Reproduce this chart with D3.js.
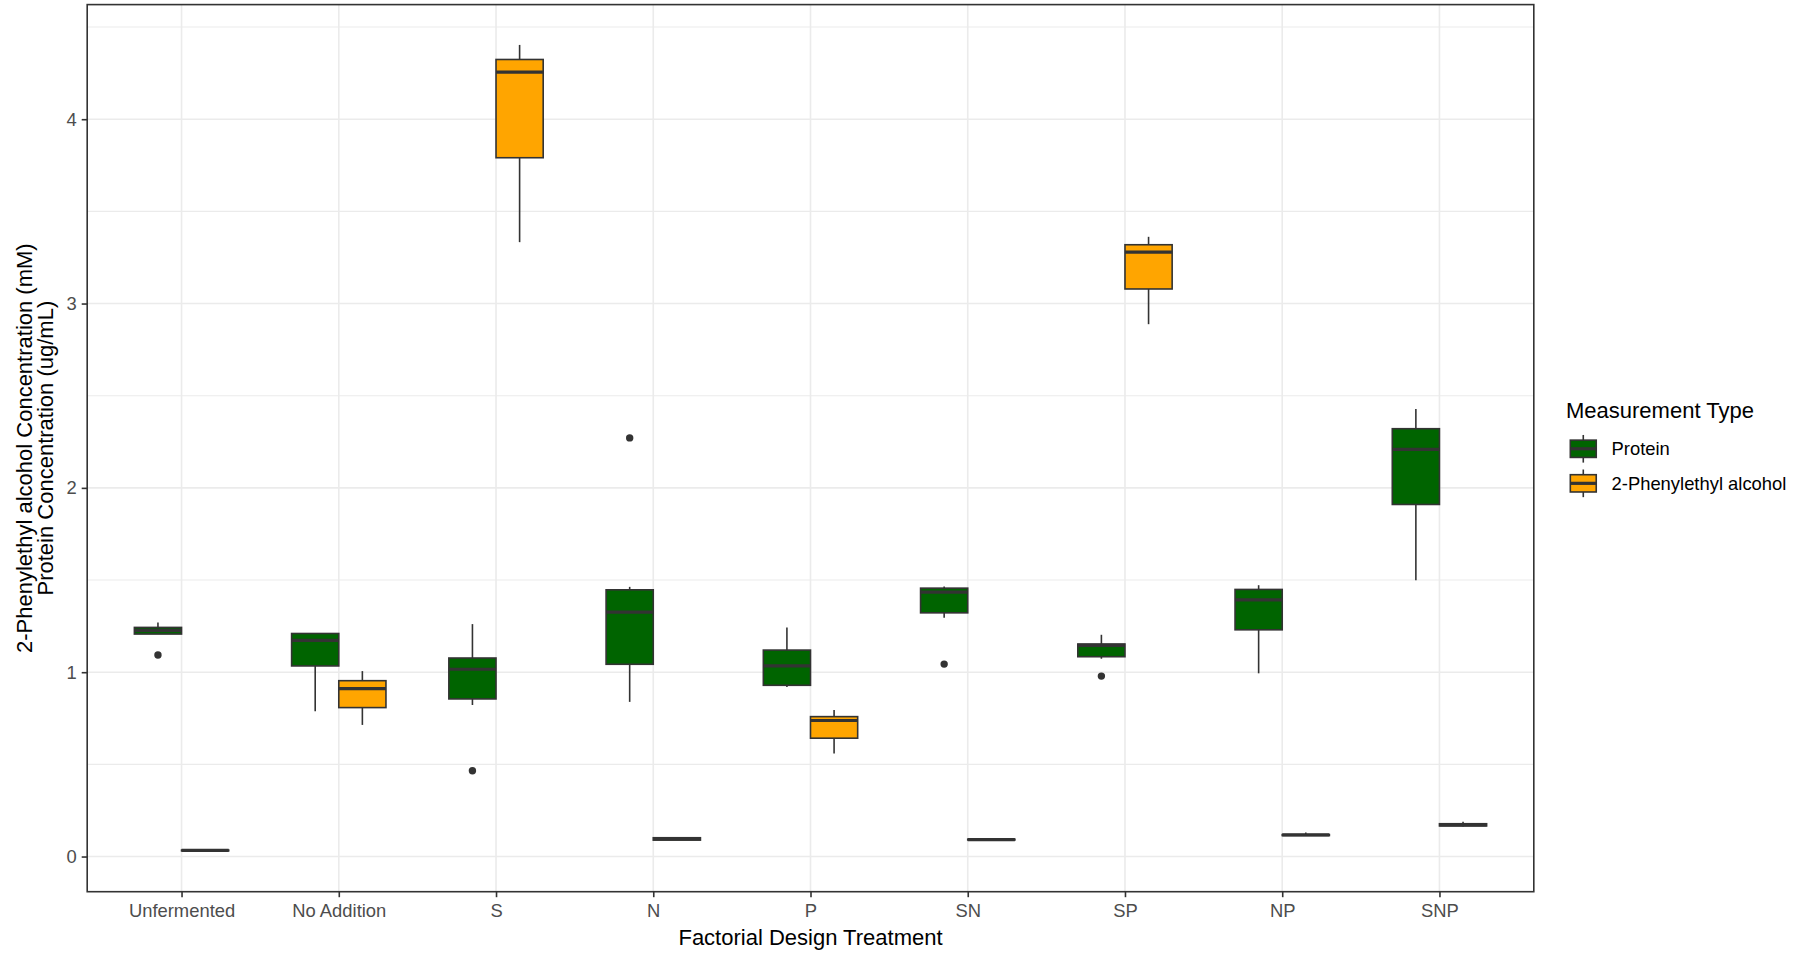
<!DOCTYPE html>
<html>
<head>
<meta charset="utf-8">
<script src="https://cdn.jsdelivr.net/npm/d3@7"></script>
<style>
  body { margin: 0; background: #ffffff; }
  text { font-family: "Liberation Sans", Arial, sans-serif; }
</style>
</head>
<body>
<svg id="chart" width="1811" height="954"></svg>
<script>
// Treatments along the x axis
const categories = ["Unfermented", "No Addition", "S", "N", "P", "SN", "SP", "NP", "SNP"];

// Measurement types (legend order)
const seriesNames = ["Protein", "2-Phenylethyl alcohol"];
const seriesColors = ["#006400", "#FFA500"];

// Protein concentration (ug/mL): five-number summaries per treatment
const proteinLow  = [1.207, 0.788, 0.822, 0.839, 0.920, 1.295, 1.073, 0.994, 1.499];
const proteinQ1   = [1.207, 1.034, 0.855, 1.043, 0.929, 1.322, 1.084, 1.230, 1.910];
const proteinMed  = [1.227, 1.173, 1.016, 1.326, 1.034, 1.434, 1.146, 1.392, 2.209];
const proteinQ3   = [1.243, 1.210, 1.077, 1.447, 1.120, 1.456, 1.153, 1.449, 2.321];
const proteinHigh = [1.270, 1.210, 1.261, 1.463, 1.243, 1.465, 1.203, 1.472, 2.428];
const proteinOutliers = [[1.093], [], [0.465], [2.271], [], [1.044], [0.979], [], []];

// 2-Phenylethyl alcohol concentration (mM): five-number summaries per treatment
const peaLow  = [0.028, 0.714, 3.333, 0.088, 0.559, 0.088, 2.888, 0.112, 0.163];
const peaQ1   = [0.031, 0.808, 3.791, 0.089, 0.642, 0.090, 3.079, 0.114, 0.166];
const peaMed  = [0.033, 0.911, 4.255, 0.097, 0.738, 0.092, 3.279, 0.117, 0.171];
const peaQ3   = [0.035, 0.954, 4.324, 0.102, 0.759, 0.094, 3.319, 0.119, 0.178];
const peaHigh = [0.037, 1.006, 4.403, 0.106, 0.795, 0.095, 3.362, 0.131, 0.189];
const peaOutliers = [[], [], [], [], [], [], [], [], []];

// Axis ticks
const yMajorTicks = [0, 1, 2, 3, 4];
const yMinorTicks = [0.5, 1.5, 2.5, 3.5, 4.5];

// ---- assemble box records ----
function buildSeries(si, low, q1, med, q3, high, outl) {
  return categories.map((c, i) => ({
    category: c, series: si,
    low: low[i], q1: q1[i], med: med[i], q3: q3[i], high: high[i],
    outliers: outl[i]
  }));
}
const boxes = [
  ...buildSeries(0, proteinLow, proteinQ1, proteinMed, proteinQ3, proteinHigh, proteinOutliers),
  ...buildSeries(1, peaLow, peaQ1, peaMed, peaQ3, peaHigh, peaOutliers)
];

// ---- layout ----
const panel = { left: 87.2, top: 4.6, right: 1533.8, bottom: 891.7 };
const dodgeWidth = 0.6;       // in category steps
const gridColor = "#EBEBEB";
const inkColor = "#333333";
const tickTextColor = "#4D4D4D";

const svg = d3.select("#chart");

const x = d3.scalePoint()
  .domain(categories)
  .range([panel.left, panel.right])
  .padding(0.6);
const step = x.step();

const allVals = boxes.flatMap(b => [b.low, b.high, ...b.outliers]);
const vMin = d3.min(allVals), vMax = d3.max(allVals);
const pad = (vMax - vMin) * 0.05;
const y = d3.scaleLinear()
  .domain([vMin - pad, vMax + pad])
  .range([panel.bottom, panel.top]);

// panel background
svg.append("rect")
  .attr("x", panel.left).attr("y", panel.top)
  .attr("width", panel.right - panel.left).attr("height", panel.bottom - panel.top)
  .attr("fill", "#ffffff");

// gridlines
const grid = svg.append("g");
grid.selectAll(".minor").data(yMinorTicks).join("line")
  .attr("x1", panel.left).attr("x2", panel.right)
  .attr("y1", d => y(d)).attr("y2", d => y(d))
  .attr("stroke", gridColor).attr("stroke-width", 1.1);
grid.selectAll(".majorY").data(yMajorTicks).join("line")
  .attr("x1", panel.left).attr("x2", panel.right)
  .attr("y1", d => y(d)).attr("y2", d => y(d))
  .attr("stroke", gridColor).attr("stroke-width", 1.6);
grid.selectAll(".majorX").data(categories).join("line")
  .attr("x1", d => x(d)).attr("x2", d => x(d))
  .attr("y1", panel.top).attr("y2", panel.bottom)
  .attr("stroke", gridColor).attr("stroke-width", 1.6);

// boxes
const boxW = step * dodgeWidth / 2;
const centerX = b => x(b.category) + (b.series === 0 ? -1 : 1) * boxW / 2;

const g = svg.append("g");
const bg = g.selectAll("g.box").data(boxes).join("g").attr("class", "box");

bg.append("line")
  .attr("x1", centerX).attr("x2", centerX)
  .attr("y1", b => y(b.high)).attr("y2", b => y(b.q3))
  .attr("stroke", inkColor).attr("stroke-width", 1.6);
bg.append("line")
  .attr("x1", centerX).attr("x2", centerX)
  .attr("y1", b => y(b.q1)).attr("y2", b => y(b.low))
  .attr("stroke", inkColor).attr("stroke-width", 1.6);
bg.append("rect")
  .attr("x", b => centerX(b) - boxW / 2)
  .attr("width", boxW)
  .attr("y", b => y(b.q3))
  .attr("height", b => Math.max(0.01, y(b.q1) - y(b.q3)))
  .attr("fill", b => seriesColors[b.series])
  .attr("stroke", inkColor).attr("stroke-width", 1.6);
bg.append("line")
  .attr("x1", b => centerX(b) - boxW / 2).attr("x2", b => centerX(b) + boxW / 2)
  .attr("y1", b => y(b.med)).attr("y2", b => y(b.med))
  .attr("stroke", inkColor).attr("stroke-width", 3.2);
bg.selectAll("circle").data(b => b.outliers.map(v => ({ v, b }))).join("circle")
  .attr("cx", d => centerX(d.b)).attr("cy", d => y(d.v))
  .attr("r", 3.7).attr("fill", inkColor);

// panel border
svg.append("rect")
  .attr("x", panel.left).attr("y", panel.top)
  .attr("width", panel.right - panel.left).attr("height", panel.bottom - panel.top)
  .attr("fill", "none").attr("stroke", inkColor).attr("stroke-width", 1.6);

// axes
const xAxis = svg.append("g")
  .attr("transform", `translate(0,${panel.bottom})`)
  .call(d3.axisBottom(x).tickSize(5.5).tickPadding(7));
const yAxis = svg.append("g")
  .attr("transform", `translate(${panel.left},0)`)
  .call(d3.axisLeft(y).tickValues(yMajorTicks).tickFormat(d3.format("d")).tickSize(5.5).tickPadding(5));
[xAxis, yAxis].forEach(a => {
  a.select(".domain").remove();
  a.selectAll(".tick line").attr("stroke", inkColor).attr("stroke-width", 1.6);
  a.selectAll(".tick text")
    .attr("fill", tickTextColor)
    .style("font-family", '"Liberation Sans", Arial, sans-serif')
    .style("font-size", "18.4px");
});

// axis titles
svg.append("text")
  .attr("x", (panel.left + panel.right) / 2).attr("y", 945)
  .attr("text-anchor", "middle")
  .style("font-size", "22px").attr("fill", "#000")
  .text("Factorial Design Treatment");

const yTitle = svg.append("text")
  .attr("transform", `translate(33,${(panel.top + panel.bottom) / 2}) rotate(-90)`)
  .attr("text-anchor", "middle")
  .style("font-size", "22px").attr("fill", "#000");
yTitle.append("tspan").attr("x", 0).attr("dy", "-0.05em").text("2-Phenylethyl alcohol Concentration (mM)");
yTitle.append("tspan").attr("x", 0).attr("dy", "0.95em").text("Protein Concentration (ug/mL)");

// legend
const legend = svg.append("g").attr("transform", "translate(1566,0)");
legend.append("text")
  .attr("x", 0).attr("y", 418)
  .style("font-size", "22px").attr("fill", "#000")
  .text("Measurement Type");

const keySize = 34.56;
const keyTop = 431.5;
const keys = legend.selectAll("g.key").data(seriesNames).join("g")
  .attr("class", "key")
  .attr("transform", (d, i) => `translate(0,${keyTop + i * keySize})`);
keys.append("line")
  .attr("x1", keySize / 2).attr("x2", keySize / 2)
  .attr("y1", keySize * 0.1).attr("y2", keySize * 0.9)
  .attr("stroke", inkColor).attr("stroke-width", 1.6);
keys.append("rect")
  .attr("x", keySize * 0.125).attr("width", keySize * 0.75)
  .attr("y", keySize * 0.25).attr("height", keySize * 0.5)
  .attr("fill", (d, i) => seriesColors[i])
  .attr("stroke", inkColor).attr("stroke-width", 1.6);
keys.append("line")
  .attr("x1", keySize * 0.125).attr("x2", keySize * 0.875)
  .attr("y1", keySize / 2).attr("y2", keySize / 2)
  .attr("stroke", inkColor).attr("stroke-width", 3.2);
keys.append("text")
  .attr("x", keySize + 11).attr("y", keySize / 2)
  .attr("dy", "0.35em")
  .style("font-size", "18.4px").attr("fill", "#000")
  .text(d => d);
</script>
</body>
</html>
